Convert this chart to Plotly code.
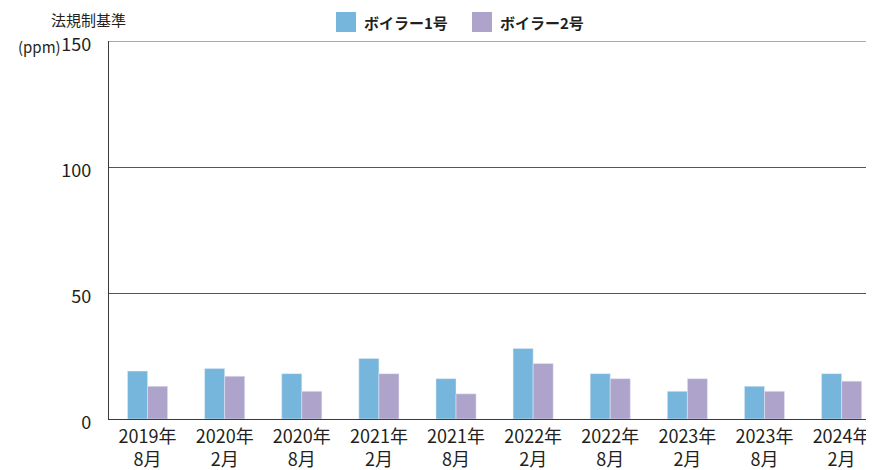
import plotly.graph_objects as go

categories = ["2019年<br>8月", "2020年<br>2月", "2020年<br>8月", "2021年<br>2月", "2021年<br>8月",
              "2022年<br>2月", "2022年<br>8月", "2023年<br>2月", "2023年<br>8月", "2024年<br>2月"]
boiler1 = [19, 20, 18, 24, 16, 28, 18, 11, 13, 18]
boiler2 = [13, 17, 11, 18, 10, 22, 16, 16, 11, 15]
series_names = ["ボイラー1号", "ボイラー2号"]
y_ticks = [0, 50, 100, 150]

C1 = "#76b5dc"
C2 = "#aea4cb"
TXT = "#231f20"
FONT = "Noto Sans CJK JP"

# page is rendered with an 8px body margin; plot area is page x 109..874, y 41..419
PLOT_L, PLOT_T, PLOT_W, PLOT_H = 109, 41, 765, 378

fig = go.Figure()
fig.add_trace(go.Bar(x=categories, y=boiler1, name=series_names[0], marker_color=C1, showlegend=False))
fig.add_trace(go.Bar(x=categories, y=boiler2, name=series_names[1], marker_color=C2, showlegend=False))

fig.update_layout(
    width=866, height=462,
    margin=dict(l=101, r=0, t=33, b=51, autoexpand=False),
    paper_bgcolor="white", plot_bgcolor="white",
    barmode="group", bargap=0.48, bargroupgap=0,
    font=dict(family=FONT, color=TXT, size=18),
)
fig.update_xaxes(
    type="category", range=[-0.5, 9.42], automargin=False,
    showline=True, linecolor="#3a3a3a", linewidth=1.2,
    ticks="", tickfont=dict(size=18, family=FONT, color=TXT),
    showgrid=False, ticklabelstandoff=1,
)
fig.update_yaxes(
    range=[0, 150], tickvals=y_ticks, ticktext=[str(v) for v in y_ticks],
    automargin=False,
    showline=True, linecolor="#3a3a3a", linewidth=1.2,
    showgrid=True, gridcolor="#555555", gridwidth=1,
    zeroline=False, ticks="", ticklabelstandoff=13, ticklabelshift=4,
    tickfont=dict(size=18, family=FONT, color=TXT),
)
# top boundary line (150 level)
fig.add_shape(type="line", xref="paper", yref="y", x0=0, x1=1, y0=150, y1=150,
              line=dict(color="#555555", width=1))


def px_x(p):
    return (p - PLOT_L) / PLOT_W


def px_y(p):
    return (PLOT_T + PLOT_H - p) / PLOT_H


fig.add_annotation(text="法規制基準", xref="paper", yref="paper", x=px_x(128), y=px_y(20),
                   xanchor="right", yanchor="middle", showarrow=False,
                   font=dict(size=15, family=FONT, color=TXT))
fig.add_annotation(text="(ppm)", xref="paper", yref="paper", x=px_x(63), y=px_y(46),
                   xanchor="right", yanchor="middle", showarrow=False,
                   font=dict(size=15, family=FONT, color=TXT))

# custom legend
legend_items = [(series_names[0], C1, 336), (series_names[1], C2, 472)]
for name, col, p in legend_items:
    fig.add_shape(type="rect", xref="paper", yref="paper", x0=px_x(p), x1=px_x(p + 20),
                  y0=px_y(32), y1=px_y(12), line=dict(width=0), fillcolor=col)
    fig.add_annotation(text="<b>" + name + "</b>", xref="paper", yref="paper",
                       x=px_x(p + 26), y=px_y(22),
                       xanchor="left", yanchor="middle", showarrow=False,
                       font=dict(size=15, family=FONT, color=TXT))

fig.write_html("out.html")
